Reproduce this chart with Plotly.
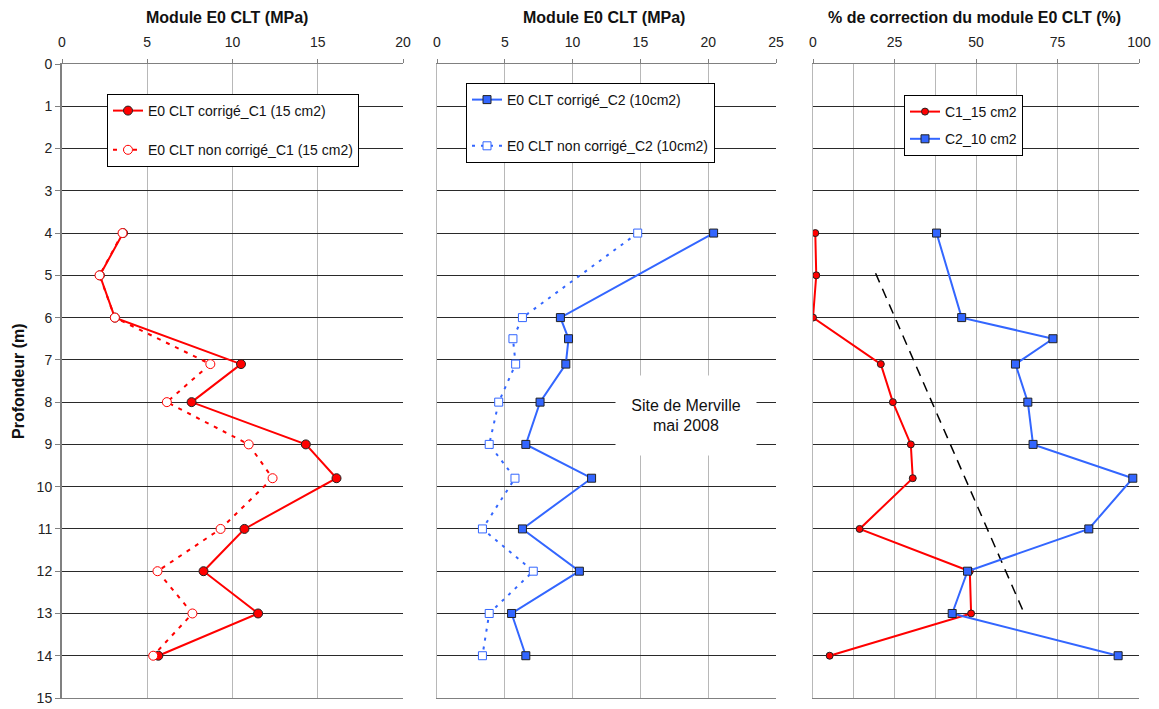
import plotly.graph_objects as go

# ---------------- data ----------------
depth_c1 = [4, 5, 6, 7.1, 8, 9, 9.8, 11, 12, 13, 14]
e0_corr_c1 = [3.58, 2.22, 3.1, 10.5, 7.6, 14.3, 16.1, 10.7, 8.3, 11.5, 5.65]
e0_noncorr_c1 = [3.55, 2.2, 3.1, 8.7, 6.15, 10.95, 12.35, 9.3, 5.6, 7.65, 5.35]

depth_c2 = [4, 6, 6.5, 7.1, 8, 9, 9.8, 11, 12, 13, 14]
e0_corr_c2 = [20.4, 9.1, 9.7, 9.5, 7.6, 6.55, 11.4, 6.3, 10.5, 5.5, 6.55]
e0_noncorr_c2 = [14.8, 6.3, 5.6, 5.8, 4.55, 3.85, 5.75, 3.35, 7.1, 3.85, 3.35]

pct_c1 = [0.7, 1.0, 0.0, 20.8, 24.5, 30.0, 30.6, 14.3, 48.1, 48.5, 5.1]
pct_c2 = [37.9, 45.6, 73.6, 62.1, 65.9, 67.5, 98.1, 84.6, 47.4, 42.7, 93.6]

trend_pct = [19.2, 64.5]
trend_depth = [4.95, 12.95]

depth_ticks = list(range(0, 16))

# ---------------- figure ----------------
OFF = 8                      # page body margin
W, H = 1159 - OFF, 709 - OFF
RED = "#FF0000"
BLUE = "#3366FF"
FONT = "Liberation Sans, Arial, sans-serif"

fig = go.Figure()

# Panel 1
fig.add_trace(go.Scatter(
    x=e0_corr_c1, y=depth_c1, mode="lines+markers", name="E0 CLT corrigé_C1 (15 cm2)",
    line=dict(color=RED, width=2),
    marker=dict(symbol="circle", size=9, color=RED, line=dict(color="#222222", width=1)),
    xaxis="x", yaxis="y", legend="legend", legendgroup="a1"))
fig.add_trace(go.Scatter(
    x=e0_noncorr_c1, y=depth_c1, mode="lines+markers", name="E0 CLT non corrigé_C1 (15 cm2)",
    line=dict(color=RED, width=2, dash="4px,6px"),
    marker=dict(symbol="circle", size=9, color="white", line=dict(color=RED, width=1)),
    xaxis="x", yaxis="y", legend="legend", legendgroup="b1"))

# Panel 2
fig.add_trace(go.Scatter(
    x=e0_corr_c2, y=depth_c2, mode="lines+markers", name="E0 CLT corrigé_C2 (10cm2)",
    line=dict(color=BLUE, width=2),
    marker=dict(symbol="square", size=8, color=BLUE, line=dict(color="#222222", width=1)),
    xaxis="x2", yaxis="y2", legend="legend2", legendgroup="a2"))
fig.add_trace(go.Scatter(
    x=e0_noncorr_c2, y=depth_c2, mode="lines+markers", name="E0 CLT non corrigé_C2 (10cm2)",
    line=dict(color=BLUE, width=2, dash="3px,6px"),
    marker=dict(symbol="square", size=8, color="white", line=dict(color=BLUE, width=1)),
    xaxis="x2", yaxis="y2", legend="legend2", legendgroup="b2"))

# Panel 3
fig.add_trace(go.Scatter(
    x=trend_pct, y=trend_depth, mode="lines", showlegend=False,
    line=dict(color="black", width=1.5, dash="10px,7px"),
    xaxis="x3", yaxis="y3"))
fig.add_trace(go.Scatter(
    x=pct_c1, y=depth_c1, mode="lines+markers", name="C1_15 cm2",
    line=dict(color=RED, width=2),
    marker=dict(symbol="circle", size=7, color=RED, line=dict(color="#222222", width=1)),
    xaxis="x3", yaxis="y3", legend="legend3", legendgroup="a3"))
fig.add_trace(go.Scatter(
    x=pct_c2, y=depth_c2, mode="lines+markers", name="C2_10 cm2",
    line=dict(color=BLUE, width=2),
    marker=dict(symbol="square", size=8, color=BLUE, line=dict(color="#222222", width=1)),
    xaxis="x3", yaxis="y3", legend="legend3", legendgroup="b3"))

# ---------------- layout ----------------
def px_x(p):
    return (p - OFF) / W

def px_y(p):
    return 1 - (p - OFF) / H

ydom = [px_y(698), px_y(64)]
doms = [[px_x(62), px_x(403)], [px_x(437), px_x(776)], [px_x(813), px_x(1139)]]

HGRID = "#2a2a2a"
VGRID = "#b8b8b8"
AXL = "#808080"

def xaxis_cfg(dom, rng, dtick, anchor, minor=None):
    cfg = dict(domain=dom, range=rng, dtick=dtick, tick0=0, side="top", anchor=anchor,
               showgrid=True, gridcolor=VGRID, gridwidth=1, zeroline=False,
               showline=True, mirror=True, linecolor=AXL, linewidth=1,
               ticks="outside", ticklen=4, tickcolor=AXL,
               tickfont=dict(family=FONT, size=14, color="#222222"),
               ticklabelstandoff=6, fixedrange=True, automargin=False)
    if minor:
        cfg["minor"] = minor
    return cfg

def yaxis_cfg(anchor, labels, linecolor):
    return dict(domain=ydom, range=[15, 0], tickvals=depth_ticks, anchor=anchor,
                showgrid=True, gridcolor=HGRID, gridwidth=1, zeroline=False,
                showline=True, linecolor=linecolor, linewidth=1 if not labels else 2,
                ticks="outside" if labels else "", ticklen=5, tickcolor=AXL,
                showticklabels=labels,
                tickfont=dict(family=FONT, size=14, color="#222222"),
                fixedrange=True, automargin=False)

legend_common = dict(bgcolor="white", bordercolor="black", borderwidth=1,
                     font=dict(family=FONT, size=14, color="#111111"),
                     xanchor="left", yanchor="top", traceorder="grouped",
                     itemclick=False, itemdoubleclick=False)

fig.update_layout(
    width=W, height=H,
    margin=dict(l=0, r=0, t=0, b=0, autoexpand=False),
    paper_bgcolor="white", plot_bgcolor="white",
    font=dict(family=FONT, size=14, color="#111111"),
    xaxis=xaxis_cfg(doms[0], [0, 20], 5, "y"),
    yaxis=yaxis_cfg("x", True, AXL),
    xaxis2=xaxis_cfg(doms[1], [0, 25], 5, "y2"),
    yaxis2=yaxis_cfg("x2", False, VGRID),
    xaxis3=xaxis_cfg(doms[2], [0, 100], 25, "y3",
                     minor=dict(dtick=12.5, tick0=0, showgrid=True, gridcolor=VGRID, ticks="")),
    yaxis3=yaxis_cfg("x3", False, VGRID),
    legend=dict(x=px_x(107), y=px_y(94), tracegroupgap=18, **legend_common),
    legend2=dict(x=px_x(466), y=px_y(83), tracegroupgap=25, **legend_common),
    legend3=dict(x=px_x(904), y=px_y(95), tracegroupgap=6, **legend_common),
    showlegend=True,
)

title_font = dict(family=FONT, size=16, color="#111111")
annotations = [
    dict(text="<b>Module E0 CLT (MPa)</b>", x=px_x(227), y=px_y(17), xref="paper", yref="paper",
         showarrow=False, font=title_font, xanchor="center", yanchor="middle"),
    dict(text="<b>Module E0 CLT (MPa)</b>", x=px_x(604), y=px_y(17), xref="paper", yref="paper",
         showarrow=False, font=title_font, xanchor="center", yanchor="middle"),
    dict(text="<b>% de correction du module E0 CLT (%)</b>", x=px_x(974), y=px_y(17),
         xref="paper", yref="paper", showarrow=False, font=title_font,
         xanchor="center", yanchor="middle"),
    dict(text="<b>Profondeur (m)</b>", x=px_x(18), y=px_y(381), xref="paper", yref="paper",
         showarrow=False, font=title_font, textangle=-90, xanchor="center", yanchor="middle"),
    dict(text="Site de Merville<br>mai 2008", x=px_x(686), y=px_y(415), xref="paper", yref="paper",
         showarrow=False, font=dict(family=FONT, size=16, color="#111111"),
         bgcolor="white", width=140, height=79, align="center", valign="middle",
         xanchor="center", yanchor="middle", borderpad=0),
]
fig.update_layout(annotations=annotations)

fig.write_html("out.html")
